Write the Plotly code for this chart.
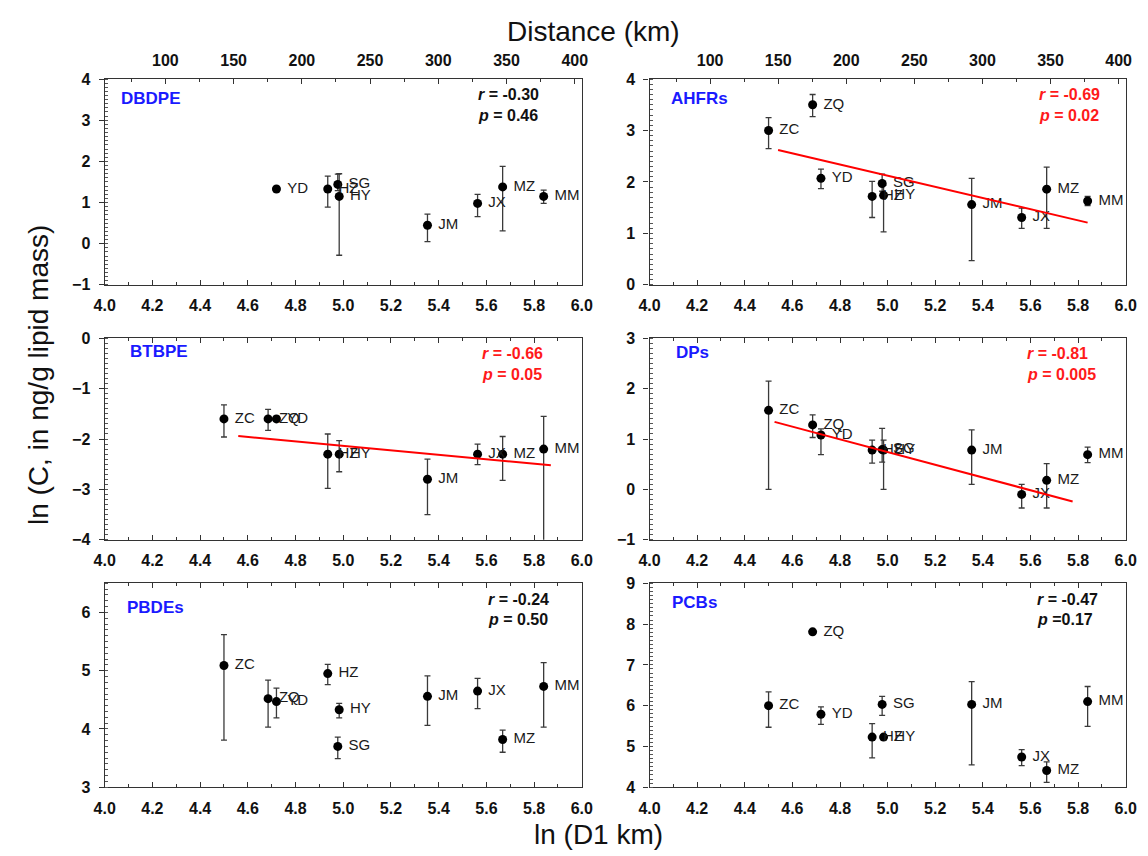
import plotly.graph_objects as go

# ---------------- data ----------------
sites = ["ZC", "ZQ", "YD", "HZ", "SG", "HY", "JM", "JX", "MZ", "MM"]
ln_d1 = [4.50, 4.685, 4.72, 4.935, 4.977, 4.983, 5.353, 5.563, 5.668, 5.84]

panel_names = ["DBDPE", "AHFRs", "BTBPE", "DPs", "PBDEs", "PCBs"]

dbdpe = [None, None, 1.33, 1.33, 1.44, 1.15, 0.45, 0.98, 1.38, 1.15]
dbdpe_up = [0, 0, 0.05, 0.31, 0.25, 0.55, 0.27, 0.22, 0.50, 0.15]
dbdpe_dn = [0, 0, 0.05, 0.44, 0.15, 1.43, 0.40, 0.32, 1.07, 0.17]

ahfrs = [3.00, 3.50, 2.07, 1.72, 1.97, 1.74, 1.56, 1.31, 1.86, 1.63]
ahfrs_up = [0.25, 0.20, 0.18, 0.29, 0.18, 0.20, 0.51, 0.18, 0.43, 0.09]
ahfrs_dn = [0.35, 0.23, 0.20, 0.41, 0.15, 0.71, 1.09, 0.21, 0.76, 0.09]

btbpe = [-1.60, -1.60, -1.60, -2.30, None, -2.30, -2.80, -2.30, -2.30, -2.20]
btbpe_up = [0.28, 0.19, 0.05, 0.40, 0, 0.27, 0.40, 0.20, 0.35, 0.65]
btbpe_dn = [0.36, 0.23, 0.05, 0.68, 0, 0.35, 0.70, 0.21, 0.52, 1.90]

dps = [1.57, 1.28, 1.08, 0.78, 0.79, 0.78, 0.78, -0.10, 0.18, 0.69]
dps_up = [0.58, 0.20, 0.12, 0.20, 0.42, 0.20, 0.40, 0.20, 0.33, 0.15]
dps_dn = [1.57, 0.25, 0.39, 0.26, 0.25, 0.78, 0.68, 0.27, 0.55, 0.16]

pbdes = [5.09, 4.52, 4.47, 4.95, 3.70, 4.33, 4.56, 4.65, 3.82, 4.73]
pbdes_up = [0.53, 0.32, 0.23, 0.16, 0.16, 0.11, 0.35, 0.22, 0.16, 0.41]
pbdes_dn = [1.28, 0.49, 0.28, 0.19, 0.21, 0.14, 0.50, 0.30, 0.22, 0.70]

pcbs = [6.00, 7.81, 5.79, 5.23, 6.03, 5.23, 6.03, 4.74, 4.41, 6.10]
pcbs_up = [0.34, 0.05, 0.18, 0.33, 0.20, 0.05, 0.56, 0.18, 0.21, 0.37]
pcbs_dn = [0.53, 0.05, 0.25, 0.51, 0.27, 0.05, 1.48, 0.21, 0.29, 0.61]

r_values = ["-0.30", "-0.69", "-0.66", "-0.81", "-0.24", "-0.47"]
p_values = ["= 0.46", "= 0.02", "= 0.05", "= 0.005", "= 0.50", "=0.17"]
significant = [False, True, True, True, False, False]

# regression lines: x ends and y ends
fit_x = {"AHFRs": [4.54, 5.84], "BTBPE": [4.56, 5.87], "DPs": [4.525, 5.777]}
fit_y = {"AHFRs": [2.62, 1.21], "BTBPE": [-1.94, -2.52], "DPs": [1.34, -0.24]}

y_ranges = [[-1, 4], [0, 4], [-4, 0], [-1, 3], [3, 6.5], [4, 9]]
x_range = [4.0, 6.0]
dist_ticks = [100, 150, 200, 250, 300, 350, 400]
dist_range = [55.5, 405.2]

series = [
    (dbdpe, dbdpe_up, dbdpe_dn),
    (ahfrs, ahfrs_up, ahfrs_dn),
    (btbpe, btbpe_up, btbpe_dn),
    (dps, dps_up, dps_dn),
    (pbdes, pbdes_up, pbdes_dn),
    (pcbs, pcbs_up, pcbs_dn),
]

# ---------------- layout geometry ----------------
W, H = 1148, 856
col_px = [(95.5, 582.0), (651.0, 1136.5)]
row_px = [(72.5, 282.5), (337.0, 542.5), (587.0, 795.0)]

def xdom(c):
    a, b = col_px[c]
    return [a / W, b / W]

def ydom(r):
    a, b = row_px[r]
    return [1 - b / H, 1 - a / H]

FONT = "Arial, Liberation Sans, sans-serif"
label_dx = [14.5, 20, 24, 25, 21, 21]
label_dy = [20, 20, 13, 14, 25, 20]
stat_x = [0.778, 0.814, 0.786, 0.788, 0.80, 0.81]

fig = go.Figure()
annotations = []
layout = {}

for i, name in enumerate(panel_names):
    r, c = divmod(i, 2)
    n = i + 1
    xa = "x" if n == 1 else f"x{n}"
    ya = "y" if n == 1 else f"y{n}"
    vals, up, dn = series[i]
    xs = [x for x, v in zip(ln_d1, vals) if v is not None]
    ys = [v for v in vals if v is not None]
    ups = [u for u, v in zip(up, vals) if v is not None]
    dns = [d for d, v in zip(dn, vals) if v is not None]
    txt = ["\u00a0" + s for s, v in zip(sites, vals) if v is not None]

    fig.add_trace(go.Scatter(
        x=xs, y=ys, text=txt, mode="markers+text",
        textposition="middle right",
        textfont=dict(family=FONT, size=15, color="#1a1a1a"),
        marker=dict(size=9, color="black"),
        error_y=dict(type="data", symmetric=False, array=ups, arrayminus=dns,
                     color="#3a3a3a", thickness=1.3, width=3),
        xaxis=xa, yaxis=ya, showlegend=False, cliponaxis=True,
    ))
    if name in fit_x:
        fig.add_trace(go.Scatter(
            x=fit_x[name], y=fit_y[name], mode="lines",
            line=dict(color="#ff0000", width=2),
            xaxis=xa, yaxis=ya, showlegend=False,
        ))

    top_row = (r == 0)
    layout[f"xaxis{'' if n == 1 else n}"] = dict(
        domain=xdom(c), anchor=ya, range=x_range,
        tickmode="linear", tick0=4.0, dtick=0.2, tickformat=".1f",
        ticks="inside", ticklen=5, tickwidth=1, tickcolor="#333",
        minor=dict(ticks="inside", dtick=0.1, ticklen=3, tickcolor="#333"),
        showline=True, linecolor="#333", linewidth=1.2,
        mirror=False if top_row else "ticks",
        showgrid=False, zeroline=False, ticklabelstandoff=6,
        tickfont=dict(family=FONT, size=16, color="#111", weight="bold"),
        fixedrange=True,
    )
    layout[f"yaxis{'' if n == 1 else n}"] = dict(
        domain=ydom(r), anchor=xa, range=y_ranges[i],
        tickmode="linear", dtick=1,
        ticks="outside", ticklen=5, tickwidth=1, tickcolor="#333",
        minor=dict(ticks="inside", dtick=0.1, ticklen=3, tickcolor="#555"),
        showline=True, linecolor="#333", linewidth=1.2, mirror=True,
        showgrid=False, zeroline=False, ticklabelstandoff=5,
        tickfont=dict(family=FONT, size=16, color="#111", weight="bold"),
        fixedrange=True,
    )

    h_px = row_px[r][1] - row_px[r][0]
    w_px = col_px[c][1] - col_px[c][0]
    annotations.append(dict(
        text=f"<b>{name}</b>", xref=f"{xa} domain", yref=f"{ya} domain",
        x=label_dx[i] / w_px, y=1 - label_dy[i] / h_px,
        xanchor="left", yanchor="middle", showarrow=False,
        font=dict(family=FONT, size=17, color="#1a1aff"),
    ))
    col = "#ff1a1a" if significant[i] else "#111111"
    annotations.append(dict(
        text=f"<b><i>r</i> = {r_values[i]}</b>", xref=f"{xa} domain", yref=f"{ya} domain",
        x=stat_x[i], y=1 - 16 / h_px, xanchor="left", yanchor="middle", showarrow=False,
        font=dict(family=FONT, size=16, color=col),
    ))
    annotations.append(dict(
        text=f"<b><i>p</i> {p_values[i]}</b>", xref=f"{xa} domain", yref=f"{ya} domain",
        x=stat_x[i], y=1 - 37 / h_px, xanchor="left", yanchor="middle", showarrow=False,
        font=dict(family=FONT, size=16, color=col),
    ))

# top distance axes for the top row
for k, c in enumerate([0, 1]):
    n = 7 + k
    base = "x" if c == 0 else "x2"
    ya = "y" if c == 0 else "y2"
    layout[f"xaxis{n}"] = dict(
        domain=xdom(c), anchor=ya, overlaying=base, side="top",
        range=dist_range, tickmode="array", tickvals=dist_ticks,
        ticktext=[str(t) for t in dist_ticks],
        ticks="inside", ticklen=5, tickcolor="#333",
        minor=dict(ticks="inside", dtick=25, tick0=0, ticklen=3, tickcolor="#333"),
        showline=True, linecolor="#333", linewidth=1.2,
        showgrid=False, zeroline=False, ticklabelstandoff=6,
        tickfont=dict(family=FONT, size=16, color="#111", weight="bold"),
        fixedrange=True,
    )
    # invisible trace to activate the axis
    fig.add_trace(go.Scatter(x=[dist_ticks[0]], y=[None], xaxis=f"x{n}", yaxis=ya,
                             mode="markers", showlegend=False, hoverinfo="skip"))

annotations += [
    dict(text="Distance (km)", xref="paper", yref="paper", x=594 / W, y=1 - 24 / H,
         xanchor="center", yanchor="middle", showarrow=False,
         font=dict(family=FONT, size=28, color="#111")),
    dict(text="ln (D1 km)", xref="paper", yref="paper", x=599 / W, y=1 - 843 / H,
         xanchor="center", yanchor="middle", showarrow=False,
         font=dict(family=FONT, size=28, color="#111")),
    dict(text="ln (C, in ng/g lipid mass)", xref="paper", yref="paper", x=28 / W, y=1 - 374 / H,
         xanchor="center", yanchor="middle", showarrow=False, textangle=-90,
         font=dict(family=FONT, size=28, color="#111")),
]

fig.update_layout(
    width=W, height=H, margin=dict(l=0, r=0, t=0, b=0),
    paper_bgcolor="white", plot_bgcolor="white",
    annotations=annotations, **layout,
)

fig.write_html("out.html", config={"displayModeBar": False})
